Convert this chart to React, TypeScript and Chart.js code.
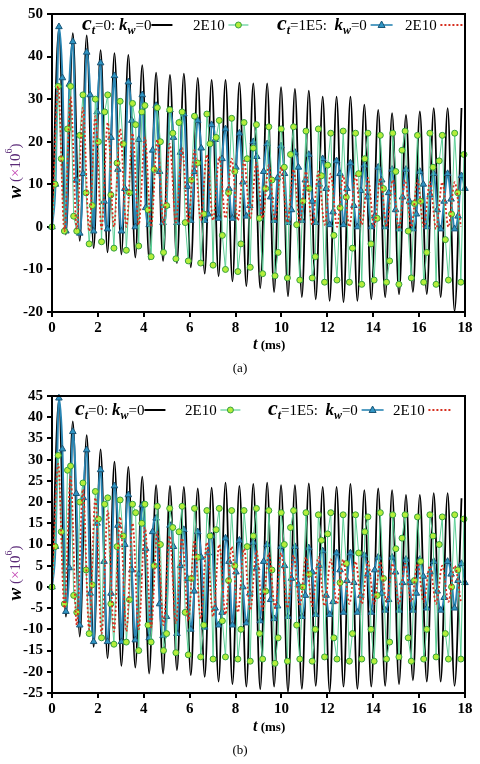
import React, { useEffect, useRef } from 'react';
import { Chart, registerables } from 'chart.js';

Chart.register(...registerables);

const SERIF = "'Liberation Serif', 'Times New Roman', serif";

// time steps of the sampled responses (ms)
const HALF_KW0 = 0.3025; // half period, k_w = 0
const QUART_KW0 = 0.15125; // quarter period, k_w = 0
const HALF_KW = 0.27; // half period, k_w = 2E10
const QUART_KW = 0.135; // quarter period, k_w = 2E10

// ---------- Panel (a) ----------
const blackPeakA = [46.5, 45.5, 45, 41.5, 40.8, 40.4, 38, 36.2, 35.7, 36, 35, 34.5, 34.5, 33.9, 33.7, 33.7, 32.8, 32.4, 32, 30.6, 30.6, 30.6, 28.7, 27.5, 26.7, 26.3, 27.1, 27.9, 27.9, 27.9];
const blackTroughA = [-1.8, -3.3, -5, -6, -6.5, -7.2, -7.7, -8, -8.5, -9.5, -11, -11.6, -12.8, -13.9, -14.4, -15.3, -16.3, -16.5, -17, -17.4, -17.7, -17.4, -17, -16.5, -15.8, -15.3, -15.8, -16.5, -19.8];

const greenPeakA = [33, 33, 31, 30, 31, 29.5, 29, 28.5, 28, 27.5, 27, 26, 26.5, 25, 25.5, 24.5, 24, 23.5, 23, 23.5, 22.5, 23, 22, 22.5, 22, 22, 21.5, 22, 22.5, 21.5, 22, 21.5, 22];
const greenTroughA = [-1, -1, -4, -3.5, -5, -5.5, -4.5, -7, -6, -7.5, -8, -8.5, -9, -10, -10.5, -9.5, -11, -11.5, -12, -12.5, -12, -13, -12.5, -13, -13.5, -12.5, -13, -13.5, -12, -13, -13.5, -12.5, -13];
const greenMidA = [10, 16, 23, 2.5, 21.5, 8, 5, 20, 27, 7.5, 15, 19.5, 8, 24, 27, 4, 13.5, 20, 5, 22, 24.5, 1, 11, 15, 3, 19.5, 21, -2, 8, 13, -4, 16, 18.5, 2, 9, 11, -6, 14, 17, 0.5, 6, 9, -7, 12, 14.5, -2, 4.5, 7, -5, 12.5, 16, -4, 2, 9, -8, 13, 18, -1, 5.5, 6, -6, 14, 15.5, -3, 3, 8, 17];

const bluePeakA = [47, 43.5, 41, 38.5, 35.5, 34, 31, 28.5, 27.5, 26.5, 25, 24, 23, 22, 20, 19.5, 19, 17.5, 17, 16, 15.5, 15, 14.5, 14, 13.5, 13.5, 13, 12.5, 12.5, 12];
const blueTroughA = [-1, -1.5, -1, -0.5, -1, 0, 0.5, 1, 1, 1.5, 1.5, 2, 2, 2.5, 2, 1.5, 1, 1.5, 1, 0.5, 0.5, 0, 0, 0, -0.5, -0.5, 0, -0.5, -0.5];
const blueMidA = [10, 35, 33.5, 11, 12.5, 31, 27, 6, 21, 13.5, 9, 25, 20.5, 4.5, 18, 13, 5, 21, 17.5, 9.5, 13, 18.5, 3, 20.5, 16, 9, 14, 10.5, 5, 16.5, 13, 7, 11.5, 12.5, 4, 14, 11, 6, 10, 9, 3.5, 12.5, 9, 5, 8.5, 7, 2.5, 11, 8, 4, 7, 6, 3, 10, 7.5, 4, 6, 6.5, 2.5, 9];

const redPeakA = [33, 30.5, 28, 26, 24.5, 23, 22, 21, 20.5, 19.5, 18.5, 18, 17, 16.5, 16, 15.5, 15, 14.5, 14, 13.5, 13, 13, 12.5, 12, 12, 11.5, 11.5, 11, 11, 11, 10.5, 10.5, 10.5];
const redTroughA = [-1, -0.5, -1, -0.5, 0, 0, 0.5, 0, 0.5, 1, 1, 1.5, 1.5, 2, 1.5, 2, 2, 1.5, 1, 1, 0.5, 0.5, 0, 0, 0.5, 0, 0, -0.5, 0, 0, -0.5, 0, 0];

// ---------- Panel (b) ----------
const blackPeakB = [44, 39, 35.8, 32.4, 29.5, 28.3, 26, 24, 23.8, 23.6, 23.2, 23.4, 24.6, 23.8, 24.3, 24.6, 24, 24, 24.4, 23.6, 23.6, 24.3, 22.8, 23.2, 22.8, 21.7, 21.7, 22.1, 22.1, 20.9];
const blackTroughB = [-7, -11.7, -14.1, -16.8, -18.6, -19, -20.4, -20.4, -19.6, -20.8, -21.2, -22.3, -22.9, -23.5, -24.1, -23.5, -24.7, -24, -23.3, -24.7, -23.5, -24, -23.5, -23.3, -22.9, -22, -22.3, -22.3, -23.3];

const greenPeakB = [31, 28.5, 24.5, 22.5, 21, 20.5, 19.5, 19.5, 19, 18.5, 19, 18.5, 18, 18.5, 18, 18, 18.5, 18, 17.5, 18, 17.5, 17, 17.5, 17, 17, 16.5, 17.5, 17, 17, 16.5, 17, 16.5, 17];
const greenTroughB = [-4, -6, -11, -12, -13.5, -13, -15, -13, -15, -15.5, -16, -16.5, -17, -16.5, -17, -17.5, -17, -18, -17.5, -17, -17.5, -16.5, -17, -17.5, -17, -17.5, -17, -16.5, -17.5, -17, -16.5, -17, -17];
const greenMidB = [9.5, 13, 27.5, -2, 20, 4, 0.5, 16, 19.5, -4, 9.5, 12, -3, 17.5, 15, -9, 5, 10, -11, 14, 13, -6, 2, 7, -9, 12, 13.5, -8, 1.5, 5, -10, 9.5, 12, -11, -1, 4, -12, 10, 14, -9, 0, 3, -10, 11, 12.5, -12, 1, 5.5, -11, 8, 13, -10, -2, 2, -13, 9, 11.5, -12, 1.5, 6, -10, 12, 10, -11, 0, 4, 16];

const bluePeakB = [44.5, 36.6, 32.3, 27.6, 23.8, 21.7, 19.3, 16.2, 14.5, 13.5, 13, 12, 11.5, 11, 10.5, 10, 9.5, 9.5, 9.2, 8.5, 8, 8, 7.5, 7, 7, 6.5, 6.5, 6, 6, 5.5];
const blueTroughB = [-5.8, -9, -12.9, -12.9, -12.9, -12.5, -12, -11.5, -11, -10, -9.5, -9, -9, -8.5, -8, -7.5, -7, -7, -6.5, -6.5, -6, -6, -6, -5.5, -5.5, -5.5, -5, -5.5, -5];
const blueMidB = [9.5, 32.5, 4.5, 22, 21, -1.5, 15, 6, -1.5, 14.5, 10, 4, 3, 9, 13, -4, -7, 9.5, 5, 2, -1, 7, 8, -5, -6, 6, 3.5, 0, -1.5, 4.5, 6, -3, -4.5, 5, 2, 0.5, -2, 3.5, 5, -2, -3.5, 4, 1.5, 1, -2, 3, 4, -1.5, -3, 3.5, 1, 1, -1.5, 2.5, 3.5, -1, -2.5, 3, 1.5, 1];

const redPeakB = [29, 26, 23, 21, 18, 16.5, 15, 14, 13, 12, 11.5, 11, 10.5, 10, 9.5, 9, 8.5, 8, 8, 7.5, 7, 7, 6.5, 6.5, 6, 6, 6, 5.5, 5.5, 5.5, 5, 5, 5];
const redTroughB = [-5, -9, -10, -11, -10.5, -10.5, -10, -9.5, -9, -8.5, -8, -7.5, -7, -6.5, -6, -5.5, -5.5, -5, -5, -4.5, -4.5, -4.5, -4, -4, -4, -4, -3.5, -4, -3.5, -3.5, -4, -3.5, -3.5];

// ---------- helpers to assemble series from the read extremes ----------
function alternate(peaks: number[], troughs: number[]): number[] {
  const out = [0];
  for (let k = 0; k < peaks.length; k++) {
    out.push(peaks[k]);
    if (k < troughs.length) out.push(troughs[k]);
  }
  return out;
}
function withMids(peaks: number[], troughs: number[], mids: number[]): number[] {
  const out = [0];
  let m = 0;
  for (let k = 0; k < peaks.length; k++) {
    if (m < mids.length) out.push(mids[m++]);
    out.push(peaks[k]);
    if (m < mids.length) out.push(mids[m++]);
    if (k < troughs.length) out.push(troughs[k]);
  }
  while (m < mids.length) out.push(mids[m++]);
  return out;
}
function toXY(vals: number[], step: number) {
  return vals.map((y, i) => ({ x: i * step, y }));
}

type Seg = { t?: string; font?: string; dy?: number; color?: string; sample?: string; w?: number; at?: number };

const F_C = `italic bold 22px ${SERIF}`;
const F_K = `italic bold 17px ${SERIF}`;
const F_SUB = `italic bold 12px ${SERIF}`;
const F_N = `15px ${SERIF}`;

function legendSegs(x1: number, x2: number, x3: number, x4: number): Seg[] {
  return [
    { at: x1, t: 'c', font: F_C },
    { t: 't', font: F_SUB, dy: 4 },
    { t: '=0: ', font: F_N },
    { t: 'k', font: F_K },
    { t: 'w', font: F_SUB, dy: 4 },
    { t: '=0', font: F_N },
    { sample: 'black', w: 21 },
    { at: x2, t: '2E10 ', font: F_N },
    { sample: 'green', w: 20 },
    { at: x3, t: 'c', font: F_C },
    { t: 't', font: F_SUB, dy: 4 },
    { t: '=1E5:  ', font: F_N },
    { t: 'k', font: F_K },
    { t: 'w', font: F_SUB, dy: 4 },
    { t: '=0 ', font: F_N },
    { sample: 'blue', w: 22 },
    { at: x4, t: '2E10 ', font: F_N },
    { sample: 'red', w: 22 },
  ];
}

function drawSample(ctx: CanvasRenderingContext2D, kind: string, x: number, y: number, w: number) {
  ctx.save();
  ctx.beginPath();
  if (kind === 'black') {
    ctx.strokeStyle = '#000';
    ctx.lineWidth = 2;
  } else if (kind === 'green') {
    ctx.strokeStyle = '#5ccf96';
    ctx.lineWidth = 1.2;
  } else if (kind === 'blue') {
    ctx.strokeStyle = '#2a86b4';
    ctx.lineWidth = 1.6;
  } else {
    ctx.strokeStyle = '#d62f1f';
    ctx.lineWidth = 1.8;
    ctx.setLineDash([2, 2]);
  }
  ctx.moveTo(x, y);
  ctx.lineTo(x + w, y);
  ctx.stroke();
  ctx.setLineDash([]);
  const cx = x + w / 2;
  if (kind === 'green') {
    ctx.beginPath();
    ctx.arc(cx, y, 3, 0, Math.PI * 2);
    ctx.fillStyle = '#b4ee3a';
    ctx.fill();
    ctx.strokeStyle = '#34a040';
    ctx.lineWidth = 1;
    ctx.stroke();
  } else if (kind === 'blue') {
    ctx.beginPath();
    ctx.moveTo(cx, y - 4);
    ctx.lineTo(cx + 3.5, y + 2.5);
    ctx.lineTo(cx - 3.5, y + 2.5);
    ctx.closePath();
    ctx.fillStyle = '#2f95c4';
    ctx.fill();
    ctx.strokeStyle = '#1b5677';
    ctx.lineWidth = 1;
    ctx.stroke();
  }
  ctx.restore();
}

function makeAnnotPlugin(opts: any) {
  return {
    id: 'annot',
    afterDraw(chart: any) {
      const ctx: CanvasRenderingContext2D = chart.ctx;
      const ca = chart.chartArea;
      ctx.save();
      // frame
      ctx.strokeStyle = '#000';
      ctx.lineWidth = 2;
      ctx.strokeRect(ca.left, ca.top, ca.right - ca.left, ca.bottom - ca.top);

      // legend
      ctx.textBaseline = 'alphabetic';
      ctx.textAlign = 'left';
      let x = 0;
      const by = opts.legendY;
      const segs: Seg[] = opts.legend;
      for (let i = 0; i < segs.length; i++) {
        const s = segs[i];
        if (typeof s.at === 'number') x = s.at;
        if (s.sample) {
          const w = s.w || 20;
          drawSample(ctx, s.sample, x, by - 5, w);
          x += w;
        } else if (s.t) {
          ctx.font = s.font || F_N;
          ctx.fillStyle = '#000';
          ctx.fillText(s.t, x, by + (s.dy || 0));
          x += ctx.measureText(s.t).width;
        }
      }

      // y title (rotated)
      const ySegs: Seg[] = [
        { t: 'w', font: `italic bold 19px ${SERIF}`, color: '#000' },
        { t: ' (', font: `15px ${SERIF}`, color: '#5b2a78' },
        { t: '×', font: `15px ${SERIF}`, color: '#c03cb0' },
        { t: '10', font: `15px ${SERIF}`, color: '#5b2a78' },
        { t: '6', font: `10px ${SERIF}`, color: '#5b2a78', dy: -7 },
        { t: ')', font: `15px ${SERIF}`, color: '#5b2a78' },
      ];
      let total = 0;
      for (const s of ySegs) {
        ctx.font = s.font!;
        total += ctx.measureText(s.t!).width;
      }
      ctx.save();
      ctx.translate(opts.yTitleX, opts.yTitleY);
      ctx.rotate(-Math.PI / 2);
      ctx.textBaseline = 'middle';
      let yx = -total / 2;
      for (const s of ySegs) {
        ctx.font = s.font!;
        ctx.fillStyle = s.color!;
        ctx.fillText(s.t!, yx, s.dy || 0);
        yx += ctx.measureText(s.t!).width;
      }
      ctx.restore();

      // x title
      ctx.textBaseline = 'alphabetic';
      ctx.fillStyle = '#000';
      ctx.font = `italic bold 16px ${SERIF}`;
      ctx.fillText('t', opts.xTitleX, opts.xTitleY);
      const tw = ctx.measureText('t').width;
      ctx.font = `bold 13px ${SERIF}`;
      ctx.fillText(' (ms)', opts.xTitleX + tw, opts.xTitleY);

      // caption
      ctx.font = `13px ${SERIF}`;
      ctx.textAlign = 'center';
      ctx.fillText(opts.caption, opts.captionX, opts.captionY);
      ctx.restore();
    },
  };
}

function makeConfig(p: any) {
  const tickFont = { family: SERIF, weight: 'bold' as const, size: 15 };
  return {
    type: 'line' as const,
    data: {
      datasets: [
        {
          label: 'c_t=1E5, k_w=2E10',
          data: toXY(alternate(p.redPeak, p.redTrough), HALF_KW),
          borderColor: '#d62f1f',
          borderWidth: 1.8,
          borderDash: [2, 2.2],
          pointRadius: 0,
          cubicInterpolationMode: 'monotone' as const,
          order: 1,
          clip: 6,
        },
        {
          label: 'c_t=0, k_w=2E10',
          data: toXY(withMids(p.greenPeak, p.greenTrough, p.greenMid), QUART_KW),
          borderColor: '#5ccf96',
          borderWidth: 1,
          pointRadius: 3,
          pointBackgroundColor: '#b4ee3a',
          pointBorderColor: '#34a040',
          pointBorderWidth: 1,
          tension: 0,
          order: 2,
          clip: 6,
        },
        {
          label: 'c_t=1E5, k_w=0',
          data: toXY(withMids(p.bluePeak, p.blueTrough, p.blueMid), QUART_KW0),
          borderColor: '#2a86b4',
          borderWidth: 2,
          pointStyle: 'triangle' as const,
          pointRadius: 3.8,
          pointBackgroundColor: '#2f95c4',
          pointBorderColor: '#1b5677',
          pointBorderWidth: 1,
          cubicInterpolationMode: 'monotone' as const,
          order: 3,
          clip: 6,
        },
        {
          label: 'c_t=0, k_w=0',
          data: toXY(alternate(p.blackPeak, p.blackTrough), HALF_KW0),
          borderColor: '#000',
          borderWidth: 1.8,
          pointRadius: 0,
          cubicInterpolationMode: 'monotone' as const,
          order: 4,
          clip: 6,
        },
      ],
    },
    options: {
      responsive: false,
      animation: false as const,
      devicePixelRatio: 1,
      events: [],
      layout: { padding: { top: p.padTop, right: 15, bottom: p.padBottom, left: 0 } },
      plugins: {
        legend: { display: false },
        tooltip: { enabled: false },
      },
      scales: {
        x: {
          type: 'linear' as const,
          min: 0,
          max: 18,
          ticks: { stepSize: 2, font: tickFont, color: '#000', padding: 2, maxRotation: 0 },
          grid: { drawOnChartArea: false, drawTicks: true, tickLength: 5, color: '#000', lineWidth: 2 },
          border: { display: true, color: '#000', width: 2 },
          afterFit: (s: any) => {
            s.height = 20;
          },
        },
        y: {
          type: 'linear' as const,
          min: p.yMin,
          max: p.yMax,
          ticks: { stepSize: p.yStep, font: tickFont, color: '#000', padding: 4 },
          grid: { drawOnChartArea: false, drawTicks: true, tickLength: 5, color: '#000', lineWidth: 2 },
          border: { display: true, color: '#000', width: 2 },
          afterFit: (s: any) => {
            s.width = 52;
          },
        },
      },
    },
    plugins: [makeAnnotPlugin(p.annot)],
  };
}

const panelA = {
  blackPeak: blackPeakA, blackTrough: blackTroughA,
  greenPeak: greenPeakA, greenTrough: greenTroughA, greenMid: greenMidA,
  bluePeak: bluePeakA, blueTrough: blueTroughA, blueMid: blueMidA,
  redPeak: redPeakA, redTrough: redTroughA,
  yMin: -20, yMax: 50, yStep: 10,
  padTop: 14, padBottom: 48,
  annot: {
    legend: legendSegs(82, 193, 277, 405),
    legendY: 30,
    yTitleX: 16, yTitleY: 171,
    xTitleX: 253, xTitleY: 349,
    caption: '(a)', captionX: 240, captionY: 372,
  },
};

const panelB = {
  blackPeak: blackPeakB, blackTrough: blackTroughB,
  greenPeak: greenPeakB, greenTrough: greenTroughB, greenMid: greenMidB,
  bluePeak: bluePeakB, blueTrough: blueTroughB, blueMid: blueMidB,
  redPeak: redPeakB, redTrough: redTroughB,
  yMin: -25, yMax: 45, yStep: 5,
  padTop: 16, padBottom: 51,
  annot: {
    legend: legendSegs(75, 185, 268, 393),
    legendY: 35,
    yTitleX: 16, yTitleY: 193,
    xTitleX: 253, xTitleY: 351,
    caption: '(b)', captionX: 240, captionY: 374,
  },
};

function Panel({ cfg, top, height }: { cfg: any; top: number; height: number }) {
  const ref = useRef<HTMLCanvasElement | null>(null);
  useEffect(() => {
    if (!ref.current) return;
    const chart = new Chart(ref.current, makeConfig(cfg) as any);
    return () => chart.destroy();
  }, [cfg]);
  return (
    <canvas
      ref={ref}
      width={480}
      height={height}
      style={{ position: 'absolute', left: 0, top, width: 480, height }}
    />
  );
}

export default function App() {
  return (
    <div style={{ position: 'absolute', left: 0, top: 0, width: 480, height: 764, background: '#fff' }}>
      <Panel cfg={panelA} top={0} height={380} />
      <Panel cfg={panelB} top={380} height={384} />
    </div>
  );
}
